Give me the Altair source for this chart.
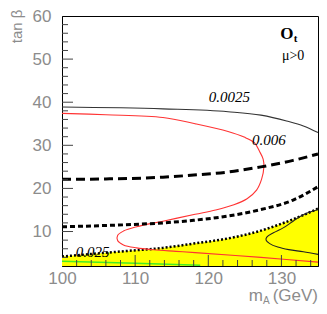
import altair as alt
import pandas as pd

# ---- data ----
# thin black contour 0.0025 (upper branch)
c0025_x = [100, 113.8, 122.7, 127.2, 130.7, 133.0, 135]
c0025_y = [38.9, 38.46, 37.8, 37.0, 35.65, 34.5, 32.96]
# thin black contour inside the yellow region
c0025b_x = [135, 133.0, 131.6, 130.3, 128.9, 128.0, 127.9, 128.4, 129.5, 131.0, 133.0, 135]
c0025b_y = [15.1, 13.9, 12.4, 10.9, 9.7, 8.7, 8.0, 7.2, 6.4, 5.8, 5.3, 4.7]
# red contour 0.006
red_x = [100, 106, 113.8, 118.2, 122.7, 124.9, 126.3, 127.0, 127.5, 127.6, 127.3, 126.6, 125.3,
         123.5, 121.0, 118.2, 113.8, 110.2, 108.4, 107.6, 107.6, 108.4, 110.2, 112.5, 115.6,
         118.2, 127.2, 135]
red_y = [37.42, 37.1, 36.47, 35.0, 33.2, 31.9, 30.6, 28.6, 26.8, 25.0, 22.2, 19.6, 17.6,
         16.2, 15.0, 14.0, 12.4, 11.1, 10.1, 9.1, 7.9, 6.9, 6.2, 5.76, 5.4,
         5.1, 4.0, 2.9]
# thick long-dashed curve
ld_x = [100, 106, 113.8, 118, 122.7, 127.2, 131.6, 135]
ld_y = [22.1, 22.2, 22.6, 23.1, 23.8, 25.0, 26.5, 28.0]
# thick short-dashed curve
sd_x = [100, 106, 113.8, 118, 122.7, 127.2, 131.6, 135]
sd_y = [11.1, 11.4, 12.0, 12.6, 13.6, 15.1, 17.3, 20.4]
# dotted boundary of the yellow (excluded) region
dot_x = [100, 104.8, 109, 113.8, 118, 122.7, 127.2, 131.6, 135]
dot_y = [4.2, 4.9, 5.5, 6.2, 7.2, 8.4, 10.2, 12.85, 15.3]
# green line
green_x = [100, 110, 118.9]
green_y = [3.1, 2.65, 2.2]

# axis ticks / labels
x_major = [110, 120, 130]
x_minor = [102, 104, 106, 108, 112, 114, 116, 118, 122, 124, 126, 128, 132, 134]
x_labels = [100, 110, 120, 130]
y_major = [10, 20, 30, 40, 50]
y_minor = [4, 6, 8, 12, 14, 16, 18, 22, 24, 26, 28, 32, 34, 36, 38, 42, 44, 46, 48, 52, 54, 56, 58]
y_labels = [10, 20, 30, 40, 50, 60]

# contour labels
lab_text = ["0.0025", "0.006", "0.025"]
lab_x = [122.9, 128.3, 104.2]
lab_y = [41.2, 31.2, 5.3]

W, H = 256, 250
xs = alt.Scale(domain=[100, 135], nice=False, zero=False)
ys = alt.Scale(domain=[2, 60], nice=False, zero=False)
GRAY = "#8c8c8c"


def line_df(xv, yv):
    return pd.DataFrame({"x": xv, "y": yv, "i": list(range(len(xv)))})


X = alt.X("x:Q", scale=xs, axis=alt.Axis(values=x_labels, ticks=False, grid=False,
                                            labelFlush=False,
                                            labelFont="Liberation Sans", labelFontSize=17,
                                            labelColor=GRAY, labelPadding=4,
                                            domainColor="#000", title=None))
Y = alt.Y("y:Q", scale=ys, axis=alt.Axis(values=y_labels, ticks=False, grid=False,
                                            labelFlush=False,
                                            labelFont="Liberation Sans", labelFontSize=17,
                                            labelColor=GRAY, labelPadding=11,
                                            domainColor="#000",
                                            title="tan β", titleFont="Liberation Sans",
                                            titleFontSize=15, titleFontWeight="normal",
                                            titleColor=GRAY, titleAngle=-90,
                                            titleAlign="right", titleBaseline="middle",
                                            titleX=-46, titleY=-7))
Xp = alt.X("x:Q", scale=xs)
Yp = alt.Y("y:Q", scale=ys)

area = alt.Chart(line_df(dot_x, dot_y)).mark_area(
    color="#ffff00", opacity=1, interpolate="monotone").encode(x=X, y=Y, y2=alt.datum(2))

green = alt.Chart(line_df(green_x, green_y)).mark_line(color="#44ee22", strokeWidth=1.5).encode(
    x=Xp, y=Yp, order="i:Q")

dotted = alt.Chart(line_df(dot_x, dot_y)).mark_line(
    color="#000", strokeWidth=2.5, strokeDash=[2, 2], strokeCap="butt",
    interpolate="monotone").encode(x=Xp, y=Yp, order="i:Q")

red = alt.Chart(line_df(red_x, red_y)).mark_line(
    color="#ff3333", strokeWidth=1.1, interpolate="catmull-rom").encode(
    x=Xp, y=Yp, order="i:Q")

black_top = alt.Chart(line_df(c0025_x, c0025_y)).mark_line(
    color="#333", strokeWidth=1.1, interpolate="monotone").encode(x=Xp, y=Yp, order="i:Q")

black_low = alt.Chart(line_df(c0025b_x, c0025b_y)).mark_line(
    color="#222", strokeWidth=1.1, interpolate="catmull-rom").encode(x=Xp, y=Yp, order="i:Q")

longdash = alt.Chart(line_df(ld_x, ld_y)).mark_line(
    color="#000", strokeWidth=3, strokeDash=[9, 5], interpolate="monotone").encode(
    x=Xp, y=Yp, order="i:Q")

shortdash = alt.Chart(line_df(sd_x, sd_y)).mark_line(
    color="#000", strokeWidth=3, strokeDash=[5, 3], interpolate="monotone").encode(
    x=Xp, y=Yp, order="i:Q")

tick_col = "#444"
xt_major = alt.Chart(pd.DataFrame({"x": x_major})).mark_rule(color=tick_col, strokeWidth=1).encode(
    x=Xp, y=alt.value(H), y2=alt.value(H - 11))
xt_minor = alt.Chart(pd.DataFrame({"x": x_minor})).mark_rule(color=tick_col, strokeWidth=1).encode(
    x=Xp, y=alt.value(H), y2=alt.value(H - 6))
yt_major = alt.Chart(pd.DataFrame({"y": y_major})).mark_rule(color=tick_col, strokeWidth=1).encode(
    y=Yp, x=alt.value(0), x2=alt.value(11))
yt_minor = alt.Chart(pd.DataFrame({"y": y_minor})).mark_rule(color=tick_col, strokeWidth=1).encode(
    y=Yp, x=alt.value(0), x2=alt.value(6))

labels = alt.Chart(pd.DataFrame({"x": lab_x, "y": lab_y, "t": lab_text})).mark_text(
    font="Liberation Serif", fontStyle="italic", fontSize=15, color="#000",
    align="center", baseline="middle").encode(x=Xp, y=Yp, text="t:N")

# top-right annotations
o_txt = alt.Chart(pd.DataFrame({"x": [131.65], "y": [55.8], "t": ["O"]})).mark_text(
    font="Liberation Serif", fontWeight="bold", fontSize=17, align="right",
    baseline="middle", color="#000").encode(x=Xp, y=Yp, text="t:N")
t_txt = alt.Chart(pd.DataFrame({"x": [131.7], "y": [54.7], "t": ["t"]})).mark_text(
    font="Liberation Serif", fontWeight="bold", fontSize=11, align="left",
    baseline="middle", color="#000").encode(x=Xp, y=Yp, text="t:N")
mu_txt = alt.Chart(pd.DataFrame({"x": [131.6], "y": [50.7], "t": ["μ>0"]})).mark_text(
    font="Liberation Serif", fontSize=14, align="center", baseline="middle",
    color="#000").encode(x=Xp, y=Yp, text="t:N")

# x-axis title  m_A (GeV)
xt_m = alt.Chart(pd.DataFrame({"t": ["m"]})).mark_text(
    font="Liberation Sans", fontSize=17, color=GRAY, align="right", baseline="alphabetic").encode(
    x=alt.value(W - 55), y=alt.value(H + 35), text="t:N")
xt_a = alt.Chart(pd.DataFrame({"t": ["A"]})).mark_text(
    font="Liberation Sans", fontSize=10, color=GRAY, align="left", baseline="alphabetic").encode(
    x=alt.value(W - 55), y=alt.value(H + 38), text="t:N")
xt_g = alt.Chart(pd.DataFrame({"t": ["(GeV)"]})).mark_text(
    font="Liberation Sans", fontSize=17, color=GRAY, align="right", baseline="alphabetic").encode(
    x=alt.value(W), y=alt.value(H + 35), text="t:N")

chart = alt.layer(
    area, green, dotted, red, black_top, black_low, longdash, shortdash,
    xt_major, xt_minor, yt_major, yt_minor, labels, o_txt, t_txt, mu_txt,
    xt_m, xt_a, xt_g
).properties(
    width=W, height=H,
    autosize=alt.AutoSizeParams(type="none"),
    padding={"left": 54, "top": 8, "right": 1, "bottom": 40},
    background="white",
).configure_view(stroke="#000", strokeWidth=1)

chart.save("out.html", embed_options={"renderer": "svg", "actions": False})
